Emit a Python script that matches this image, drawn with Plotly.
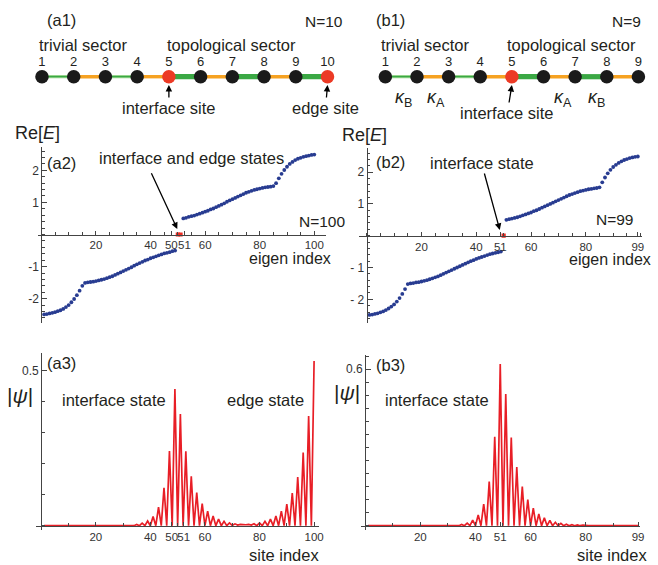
import plotly.graph_objects as go

W, H = 658, 565
FONT = "Liberation Sans, Arial, sans-serif"
TXT = "#231f20"
AX = "#444444"

# ---------------- data ----------------
# (a1) / (b1) chain schematics
a1_sites = [1, 2, 3, 4, 5, 6, 7, 8, 9, 10]
a1_bonds = ["thin", "kA", "thin", "kA", "thick", "kA", "thick", "kA", "thick"]
a1_red_sites = [5, 10]
b1_sites = [1, 2, 3, 4, 5, 6, 7, 8, 9]
b1_bonds = ["thin", "kA", "thin", "kA", "thick", "kA", "thick", "kA"]
b1_red_sites = [5]

# (a2) Re[E], N=100
a2_idx_neg = list(range(1, 50))
a2_E_neg = [-2.49, -2.48, -2.46, -2.44, -2.42, -2.39, -2.36, -2.32, -2.26, -2.20,
            -2.11, -2.01, -1.89, -1.75, -1.60, -1.51, -1.49, -1.48, -1.47, -1.45,
            -1.43, -1.41, -1.39, -1.36, -1.33, -1.30, -1.26, -1.22, -1.18, -1.14,
            -1.10, -1.06, -1.02, -0.97, -0.93, -0.89, -0.85, -0.81, -0.78, -0.74,
            -0.71, -0.68, -0.65, -0.62, -0.59, -0.57, -0.55, -0.52, -0.50]
a2_idx_zero = [50, 51]
a2_E_zero = [0.0, 0.0]
a2_idx_pos = list(range(52, 101))
a2_E_pos = [0.50, 0.52, 0.55, 0.57, 0.59, 0.62, 0.65, 0.68, 0.71, 0.74,
            0.78, 0.81, 0.85, 0.89, 0.93, 0.97, 1.02, 1.06, 1.10, 1.14,
            1.18, 1.22, 1.26, 1.30, 1.33, 1.36, 1.39, 1.41, 1.43, 1.45,
            1.47, 1.48, 1.49, 1.51, 1.60, 1.75, 1.89, 2.01, 2.11, 2.20,
            2.26, 2.32, 2.36, 2.39, 2.42, 2.44, 2.46, 2.48, 2.49]

# (b2) Re[E], N=99
b2_idx_neg = list(range(1, 50))
b2_E_neg = [-2.49, -2.48, -2.46, -2.44, -2.41, -2.38, -2.34, -2.29, -2.23, -2.16,
            -2.07, -1.96, -1.83, -1.68, -1.52, -1.50, -1.49, -1.47, -1.46, -1.44,
            -1.42, -1.40, -1.37, -1.34, -1.31, -1.28, -1.24, -1.20, -1.16, -1.12,
            -1.08, -1.04, -1.00, -0.96, -0.92, -0.88, -0.84, -0.80, -0.77, -0.73,
            -0.70, -0.67, -0.64, -0.61, -0.58, -0.56, -0.54, -0.52, -0.50]
b2_idx_zero = [50]
b2_E_zero = [0.0]
b2_idx_pos = list(range(51, 100))
b2_E_pos = [0.50, 0.52, 0.54, 0.56, 0.58, 0.61, 0.64, 0.67, 0.70, 0.73,
            0.77, 0.80, 0.84, 0.88, 0.92, 0.96, 1.00, 1.04, 1.08, 1.12,
            1.16, 1.20, 1.24, 1.28, 1.31, 1.34, 1.37, 1.40, 1.42, 1.44,
            1.46, 1.47, 1.49, 1.50, 1.52, 1.68, 1.83, 1.96, 2.07, 2.16,
            2.23, 2.29, 2.34, 2.38, 2.41, 2.44, 2.46, 2.48, 2.49]

# (a3) |psi|, N=100
a3_site = list(range(1, 101))
a3_psi = [0, 0, 0, 0, 0, 0, 0, 0, 0, 0,
          0, 0, 0, 0, 0, 0, 0, 0, 0, 0,
          0, 0, 0, 0, 0, 0, 0, 0, 0, 0,
          0.001, 0, 0.002, 0, 0.004, 0, 0.008, 0, 0.015, 0,
          0.030, 0, 0.060, 0, 0.122, 0, 0.241, 0, 0.441, 0,
          0.360, 0, 0.240, 0, 0.159, 0, 0.107, 0, 0.071, 0,
          0.047, 0, 0.031, 0, 0.021, 0, 0.014, 0, 0.009, 0.001,
          0.006, 0.002, 0.004, 0.003, 0.003, 0.004, 0.002, 0.006, 0, 0.009,
          0, 0.014, 0, 0.021, 0, 0.031, 0, 0.047, 0, 0.070,
          0, 0.105, 0, 0.157, 0, 0.236, 0, 0.354, 0, 0.531]

# (b3) |psi|, N=99
b3_site = list(range(1, 100))
b3_psi = [0, 0, 0, 0, 0, 0, 0, 0, 0, 0,
          0, 0, 0, 0, 0, 0, 0, 0, 0, 0,
          0, 0, 0, 0, 0, 0, 0, 0, 0, 0,
          0.001, 0, 0.0025, 0, 0.005, 0, 0.010, 0, 0.021, 0,
          0.041, 0, 0.083, 0, 0.169, 0, 0.341, 0, 0.620, 0,
          0.505, 0, 0.338, 0, 0.225, 0, 0.150, 0, 0.100, 0,
          0.067, 0, 0.045, 0, 0.030, 0, 0.020, 0, 0.013, 0,
          0.009, 0, 0.006, 0, 0.004, 0, 0.003, 0, 0.002, 0,
          0, 0, 0, 0, 0, 0, 0, 0, 0, 0,
          0, 0, 0, 0, 0, 0, 0, 0, 0]

a2_ticks = [20, 40, 47.6, 52.4, 60, 80, 100]
a2_ticktext = ["20", "40", "50", "51", "60", "80", "100"]
b2_ticks = [20, 40, 48.8, 60, 80, 99]
b2_ticktext = ["20", "40", "51", "60", "80", "99"]
a3_ticks = [20, 40, 47.8, 52.2, 60, 80, 100]
a3_ticktext = ["20", "40", "50", "51", "60", "80", "100"]
b3_ticks = [20, 40, 49, 60, 80, 99]
b3_ticktext = ["20", "40", "51", "60", "80", "99"]

# ---------------- layout helpers ----------------
def xaxis_px(left, right, x0px, sx):
    return [left / W, right / W], [(left - x0px) / sx, (right - x0px) / sx]


def yaxis_px(top, bot, y0px, sy):
    return [1 - bot / H, 1 - top / H], [(y0px - bot) / sy, (y0px - top) / sy]


fig = go.Figure()

# ---------------- schematics ----------------
SCH_Y0, SCH_SY = 76.7, 48.3
num_y = (SCH_Y0 - 63) / SCH_SY
GREEN = "rgb(58,168,68)"
GREEN_PALE = "rgb(150,212,140)"
ORANGE = "rgb(246,162,34)"
RED = "rgb(236,58,37)"
DARK = "rgb(26,26,26)"


def add_chain(sites, bonds, reds, xa, ya):
    styles = {
        "thin_pale": (GREEN_PALE, 3.2),
        "thin": (GREEN, 1.3),
        "kA": (ORANGE, 3.4),
        "thick": (GREEN, 5.2),
    }
    order = ["thin_pale", "thin", "kA", "thick"]
    for st in order:
        key = "thin" if st == "thin_pale" else st
        xs, ys = [], []
        for i, b in enumerate(bonds):
            if b == key:
                xs += [sites[i], sites[i + 1], None]
                ys += [0, 0, None]
        if xs:
            col, w = styles[st]
            fig.add_trace(go.Scatter(x=xs, y=ys, mode="lines", xaxis=xa, yaxis=ya,
                                     line=dict(color=col, width=w), hoverinfo="skip",
                                     showlegend=False))
    cols = [RED if s in reds else DARK for s in sites]
    fig.add_trace(go.Scatter(x=sites, y=[0] * len(sites), mode="markers", xaxis=xa, yaxis=ya,
                             marker=dict(size=13.5, color=cols, line=dict(width=0)),
                             showlegend=False))
    fig.add_trace(go.Scatter(x=sites, y=[num_y] * len(sites), mode="text", xaxis=xa, yaxis=ya,
                             text=[str(s) for s in sites],
                             textfont=dict(family=FONT, size=13, color=TXT),
                             showlegend=False))


add_chain(a1_sites, a1_bonds, a1_red_sites, "x5", "y5")
add_chain(b1_sites, b1_bonds, b1_red_sites, "x6", "y6")

# ---------------- eigenvalue plots ----------------
BLUE = "rgb(40,60,145)"
PRED = "rgb(238,45,35)"
for xa, ya, ixn, en, ixz, ez, ixp, ep in [
    ("x", "y", a2_idx_neg, a2_E_neg, a2_idx_zero, a2_E_zero, a2_idx_pos, a2_E_pos),
    ("x2", "y2", b2_idx_neg, b2_E_neg, b2_idx_zero, b2_E_zero, b2_idx_pos, b2_E_pos),
]:
    fig.add_trace(go.Scatter(x=ixn + ixp, y=en + ep, mode="markers", xaxis=xa, yaxis=ya,
                             marker=dict(size=3.8, color=BLUE), showlegend=False))
    fig.add_trace(go.Scatter(x=ixz, y=ez, mode="markers", xaxis=xa, yaxis=ya,
                             marker=dict(size=4.2, color=PRED, symbol="square"), showlegend=False))

# ---------------- wavefunction plots ----------------
LRED = "rgb(232,30,38)"
fig.add_trace(go.Scatter(x=a3_site, y=a3_psi, mode="lines", xaxis="x3", yaxis="y3",
                         line=dict(color=LRED, width=1.7), showlegend=False))
fig.add_trace(go.Scatter(x=b3_site, y=b3_psi, mode="lines", xaxis="x4", yaxis="y4",
                         line=dict(color=LRED, width=1.7), showlegend=False))


def data_axes(xdom, xr, ydom, yr, ypos_px, xpos_px, xt, xtt, yt, ytt, xminor, yminor):
    xa = dict(domain=xdom, range=xr, anchor="free", position=1 - ypos_px / H,
              showline=True, linecolor=AX, linewidth=1, showgrid=False, zeroline=False,
              ticks="inside", ticklen=4, tickcolor=AX, tickwidth=1, tickangle=0,
              tickmode="array", tickvals=xt, ticktext=xtt,
              tickfont=dict(family=FONT, size=11.5, color="#333"),
              minor=dict(ticks="inside", ticklen=2.5, tickcolor=AX, dtick=xminor, tick0=0,
                         showgrid=False),
              fixedrange=True)
    ya = dict(domain=ydom, range=yr, anchor="free", position=xpos_px / W,
              showline=True, linecolor=AX, linewidth=1, showgrid=False, zeroline=False,
              ticks="inside", ticklen=5, tickcolor=AX, tickwidth=1, tickangle=0,
              tickmode="array", tickvals=yt, ticktext=ytt,
              tickfont=dict(family=FONT, size=12, color="#333"),
              minor=dict(ticks="inside", ticklen=2.5, tickcolor=AX, dtick=yminor, tick0=0,
                         showgrid=False),
              fixedrange=True)
    return xa, ya


# a2
xd, xr = xaxis_px(38, 328, 41.7, 2.75)
yd, yr = yaxis_px(146.7, 323.3, 234.5, 32.1)
xa1, ya1 = data_axes(xd, xr, yd, yr, 234.5, 41.7, a2_ticks, a2_ticktext,
                     [-2, -1, 1, 2], ["-2", "-1", "1", "2"], 5, 0.2)
# b2
xd, xr = xaxis_px(361.7, 646.7, 369.5, 2.76)
yd, yr = yaxis_px(148.3, 323.3, 235.7, 31.8)
xa2, ya2 = data_axes(xd, xr, yd, yr, 235.7, 369.5, b2_ticks, b2_ticktext,
                     [-2, -1, 1, 2], ["- 2", "- 1", "1", "2"], 5, 0.2)
# a3
xd, xr = xaxis_px(36.7, 321, 41.5, 2.75)
yd, yr = yaxis_px(353.3, 530, 525.7, 310)
xa3, ya3 = data_axes(xd, xr, yd, yr, 525.7, 41.5, a3_ticks, a3_ticktext,
                     [0.5], ["0.5"], 10, 0.1)
# b3
xd, xr = xaxis_px(363.3, 645, 368, 2.777)
yd, yr = yaxis_px(355, 530, 525.7, 260.7)
xa4, ya4 = data_axes(xd, xr, yd, yr, 525.7, 368, b3_ticks, b3_ticktext,
                     [0.6], ["0.6"], 10, 0.05)

# schematic axes
sxd5, sxr5 = xaxis_px(0, 342, 42.3 - 31.97, 31.97)
sxd6, sxr6 = xaxis_px(342, 658, 388.3 - 31.875, 31.875)
syd, syr = yaxis_px(0, 125, SCH_Y0, SCH_SY)
hidden = dict(visible=False, showgrid=False, zeroline=False, fixedrange=True)

fig.update_layout(
    width=W, height=H, margin=dict(l=0, r=0, t=0, b=0),
    paper_bgcolor="white", plot_bgcolor="rgba(0,0,0,0)", showlegend=False,
    xaxis=xa1, yaxis=ya1, xaxis2=xa2, yaxis2=ya2,
    xaxis3=xa3, yaxis3=ya3, xaxis4=xa4, yaxis4=ya4,
    xaxis5=dict(domain=sxd5, range=sxr5, anchor="y5", **hidden),
    yaxis5=dict(domain=syd, range=syr, anchor="x5", **hidden),
    xaxis6=dict(domain=sxd6, range=sxr6, anchor="y6", **hidden),
    yaxis6=dict(domain=syd, range=syr, anchor="x6", **hidden),
)

anns = []


def txt(text, px, py, size=16.5, xanchor="center"):
    anns.append(dict(text=text, x=px / W, y=1 - py / H, xref="paper", yref="paper",
                     xanchor=xanchor, yanchor="middle", showarrow=False, borderpad=0,
                     font=dict(family=FONT, size=size, color=TXT)))


def labelled_arrow(text, xref, yref, x, y, ax, ay, size=16.5):
    # text box centred at tail offset (ax, ay) pixels from the arrow tip (x, y)
    anns.append(dict(text=text, x=x, y=y, xref=xref, yref=yref, ax=ax, ay=ay,
                     axref="pixel", ayref="pixel", showarrow=True, arrowhead=2,
                     arrowsize=1.0, arrowwidth=1.3, arrowcolor="black", standoff=0,
                     font=dict(family=FONT, size=size, color=TXT)))


# top row
txt("(a1)", 62, 20)
txt("N=10", 306, 22, 15.5, "left")
txt("trivial sector", 38, 45, 16.5, "left")
txt("topological sector", 167, 45, 16.5, "left")
txt("(b1)", 393, 20)
txt("N=9", 631.5, 22, 15.5)
txt("trivial sector", 383, 45, 16.5, "left")
txt("topological sector", 510, 45, 16.5, "left")
for lab, px in [("B", 407), ("A", 439), ("A", 567.5), ("B", 601)]:
    txt("<i>κ</i><sub>%s</sub>" % lab, px, 98, 18)

tip_y = (SCH_Y0 - 85) / SCH_SY
labelled_arrow("interface site", "x5", "y5", 5, tip_y, 0, 108 - 85)
labelled_arrow("edge site", "x5", "y5", 10, tip_y, -2, 108 - 85)
labelled_arrow("interface site", "x6", "y6", 5, tip_y, -4.5, 113 - 85)

# middle row
txt("Re[<i>E</i>]", 38, 133, 18)
txt("(a2)", 62, 163)
txt("interface and edge states", 193, 158)
txt("N=100", 300, 221, 15.5, "left")
txt("eigen index", 250, 258, 16, "left")
txt("Re[<i>E</i>]", 367, 135, 18)
txt("(b2)", 393, 162)
labelled_arrow("interface state", "x2", "y2", 48.6, 0.18, 485 - 503.3, 163 - 230)
txt("N=99", 600, 220, 15.5, "left")
txt("eigen index", 572, 259, 16, "left")

# arrow for (a2): tail below the label, tip at the zero modes
anns.append(dict(text="", x=49.8, y=0.17, xref="x", yref="y", ax=-26.6, ay=-57.3,
                 axref="pixel", ayref="pixel", showarrow=True, arrowhead=2,
                 arrowsize=1.0, arrowwidth=1.3, arrowcolor="black", standoff=0))

# bottom row
txt("(a3)", 62, 363)
txt("|<i>ψ</i>|", 20, 395, 21)
txt("interface state", 115, 400)
txt("edge state", 268, 400)
txt("site index", 250, 555, 16.5, "left")
txt("(b3)", 393, 365)
txt("|<i>ψ</i>|", 350, 393, 21)
txt("interface state", 440, 400)
txt("site index", 580, 555, 16.5, "left")

fig.update_layout(annotations=anns)
fig.write_html(
    "out.html",
    config={"displayModeBar": False, "staticPlot": True},
    post_script="document.body.style.margin='0px';document.body.style.padding='0px';"
                "document.documentElement.style.margin='0px';"
                "document.documentElement.style.overflow='hidden';",
)
